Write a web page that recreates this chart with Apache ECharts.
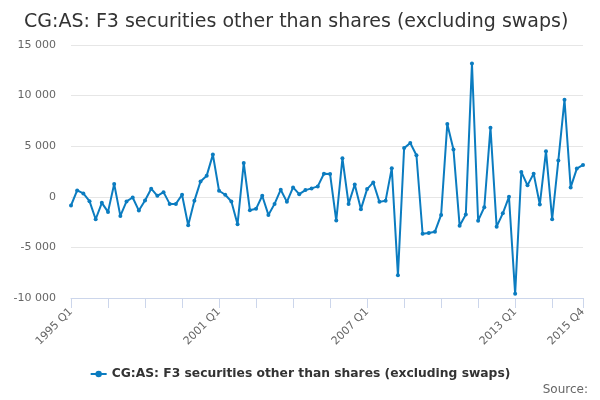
<!DOCTYPE html>
<html>
<head>
<meta charset="utf-8">
<script src="https://cdn.jsdelivr.net/npm/echarts@6/dist/echarts.min.js"></script>
<style>
  html, body { margin: 0; padding: 0; background: #fff; }
  #main { width: 600px; height: 400px; }
</style>
</head>
<body>
<div id="main"></div>
<script type="text/javascript">
// quarterly values, 1995 Q1 .. 2015 Q4
var years = [];
for (var y = 1995; y <= 2015; y++) years.push(y);
var quarters = [];
years.forEach(function (yr) {
    ['Q1', 'Q2', 'Q3', 'Q4'].forEach(function (q) { quarters.push(yr + ' ' + q); });
});

var values = [
    -860, 630, 330, -430, -2220, -600, -1490, 1260,
    -1890, -460, -70, -1360, -360, 800, 100, 460,
    -700, -700, 200, -2810, -400, 1520, 2090, 4170,
    600, 200, -460, -2710, 3340, -1320, -1190, 100,
    -1790, -700, 700, -500, 930, 260, 660, 830,
    1030, 2280, 2250, -2350, 3810, -700, 1220, -1220,
    760, 1420, -500, -380, 2830, -7760, 4810, 5310,
    4110, -3650, -3580, -3450, -1790, 7200, 4680, -2850,
    -1760, 13170, -2360, -1030, 6830, -2950, -1630, 0,
    -9590, 2460, 1130, 2290, -760, 4510, -2220, 3580,
    9590, 930, 2790, 3150
];

var seriesName = 'CG:AS: F3 securities other than shares (excluding swaps)';
var lastIdx = quarters.length - 1;

var myChart = echarts.init(document.getElementById('main'));

var option = {
    animation: false,
    textStyle: { fontFamily: 'DejaVu Sans' },
    title: {
        text: seriesName,
        left: 19,
        top: 8,
        textStyle: { fontSize: 19, fontWeight: 'normal', color: '#333333', fontFamily: 'DejaVu Sans' }
    },
    legend: {
        bottom: 15,
        left: 'center',
        itemWidth: 16,
        itemHeight: 8,
        itemGap: 6,
        textStyle: { fontSize: 12.3, fontWeight: 'bold', color: '#333333', fontFamily: 'DejaVu Sans' },
        data: [seriesName]
    },
    graphic: [{
        type: 'text',
        right: 12,
        bottom: 4,
        style: { text: 'Source:', fill: '#666666', fontSize: 12, fontFamily: 'DejaVu Sans' }
    }],
    grid: { left: 71, right: 17, top: 45, bottom: 102 },
    xAxis: {
        type: 'category',
        data: quarters,
        boundaryGap: false,
        axisLine: { onZero: false, lineStyle: { color: '#ccd6eb' } },
        axisTick: {
            lineStyle: { color: '#ccd6eb' },
            length: 10,
            interval: function (i) { return i % 6 === 0 || i === lastIdx; }
        },
        axisLabel: {
            rotate: 45,
            color: '#666666',
            fontSize: 11,
            margin: 12,
            interval: function (i) { return i % 24 === 0 || i === lastIdx; }
        },
        splitLine: { show: false }
    },
    yAxis: {
        type: 'value',
        min: -10000,
        max: 15000,
        interval: 5000,
        axisLine: { show: false },
        axisTick: { show: false },
        axisLabel: {
            color: '#666666',
            fontSize: 11,
            margin: 15,
            formatter: function (v) {
                var s = String(Math.abs(v)).replace(/\B(?=(\d{3})+(?!\d))/g, ' ');
                return (v < 0 ? '-' : '') + s;
            }
        },
        splitLine: { lineStyle: { color: '#e6e6e6' } }
    },
    series: [{
        name: seriesName,
        type: 'line',
        data: values,
        symbol: 'circle',
        symbolSize: 4,
        showSymbol: true,
        lineStyle: { width: 2, color: '#0b7cc0' },
        itemStyle: { color: '#0b7cc0' }
    }]
};

myChart.setOption(option);
</script>
</body>
</html>
